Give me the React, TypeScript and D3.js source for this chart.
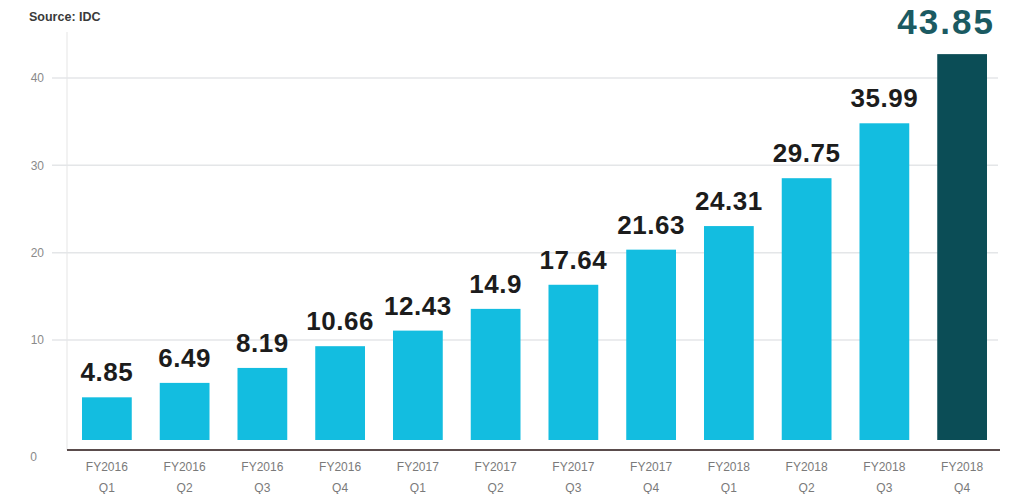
import React, { useEffect, useRef } from 'react';
import * as d3 from 'd3';

// quarterly values (source: IDC)
const years = ['FY2016', 'FY2016', 'FY2016', 'FY2016', 'FY2017', 'FY2017', 'FY2017', 'FY2017', 'FY2018', 'FY2018', 'FY2018', 'FY2018'];
const quarters = ['Q1', 'Q2', 'Q3', 'Q4', 'Q1', 'Q2', 'Q3', 'Q4', 'Q1', 'Q2', 'Q3', 'Q4'];
const values = [4.85, 6.49, 8.19, 10.66, 12.43, 14.9, 17.64, 21.63, 24.31, 29.75, 35.99, 43.85];
const gridTicks = [10, 20, 30, 40];

const App = () => {
  const svgRef = useRef(null);

  const width = 1025;
  const height = 494;

  const data = values.map((v, i) => ({ key: `${years[i]} ${quarters[i]}`, year: years[i], q: quarters[i], value: v }));

  const xScale = d3
    .scaleBand()
    .domain(data.map((d) => d.key))
    .range([68, 1001])
    .paddingInner(0.36)
    .paddingOuter(0.18);

  // bars
  const yScale = d3.scaleLinear().domain([0, 45]).range([440, 44]);
  // the printed axis in the original is spaced a bit differently from the bars
  const gridScale = d3.scaleLinear().domain([10, 40]).range([340, 78]);

  useEffect(() => {
    const svg = d3.select(svgRef.current);
    svg.selectAll('*').remove();

    svg.append('rect').attr('width', width).attr('height', height).attr('fill', '#fff');

    // source note
    svg
      .append('text')
      .attr('x', 29)
      .attr('y', 21)
      .attr('fill', '#3a3a3a')
      .style('font-family', 'Liberation Sans, Arial, sans-serif')
      .style('font-size', '12.5px')
      .style('font-weight', 'bold')
      .text('Source: IDC');

    // light vertical line at left
    svg
      .append('line')
      .attr('x1', 67)
      .attr('x2', 67)
      .attr('y1', 32)
      .attr('y2', 450)
      .attr('stroke', '#eeeeee')
      .attr('stroke-width', 1.5);

    // gridlines
    svg
      .selectAll('.grid')
      .data(gridTicks)
      .enter()
      .append('line')
      .attr('class', 'grid')
      .attr('x1', 52)
      .attr('x2', 998)
      .attr('y1', (d) => gridScale(d))
      .attr('y2', (d) => gridScale(d))
      .attr('stroke', '#e4e6e8')
      .attr('stroke-width', 1.5);

    const tickFont = 'Liberation Sans, Arial, sans-serif';

    svg
      .selectAll('.ytick')
      .data(gridTicks)
      .enter()
      .append('text')
      .attr('class', 'ytick')
      .attr('x', 44)
      .attr('y', (d) => gridScale(d))
      .attr('dy', '0.35em')
      .attr('text-anchor', 'end')
      .attr('fill', '#8a8a8a')
      .style('font-family', tickFont)
      .style('font-size', '12px')
      .text((d) => d);

    // zero label sits just under the baseline
    svg
      .append('text')
      .attr('x', 37)
      .attr('y', yScale(0) + 17)
      .attr('dy', '0.35em')
      .attr('text-anchor', 'end')
      .attr('fill', '#8a8a8a')
      .style('font-family', tickFont)
      .style('font-size', '12px')
      .text('0');

    // bars
    svg
      .selectAll('.bar')
      .data(data)
      .enter()
      .append('rect')
      .attr('class', 'bar')
      .attr('x', (d) => xScale(d.key))
      .attr('y', (d) => yScale(d.value))
      .attr('width', xScale.bandwidth())
      .attr('height', (d) => yScale(0) - yScale(d.value))
      .attr('fill', (d, i) => (i === data.length - 1 ? '#0b4d56' : '#13bde0'));

    // baseline
    svg
      .append('line')
      .attr('x1', 67)
      .attr('x2', 1000)
      .attr('y1', yScale(0) + 10)
      .attr('y2', yScale(0) + 10)
      .attr('stroke', '#5a4c4c')
      .attr('stroke-width', 2);

    // value labels
    const last = data.length - 1;
    svg
      .selectAll('.val')
      .data(data)
      .enter()
      .append('text')
      .attr('class', 'val')
      .attr('x', (d, i) => xScale(d.key) + xScale.bandwidth() / 2 + (i === last ? -16 : 0))
      .attr('y', (d, i) => yScale(d.value) - (i === last ? 20 : 16))
      .attr('text-anchor', 'middle')
      .attr('fill', (d, i) => (i === last ? '#1b5a62' : '#1c1c1c'))
      .style('font-family', 'Liberation Sans, Arial, sans-serif')
      .style('font-size', (d, i) => (i === last ? '35px' : '26px'))
      .style('font-weight', 'bold')
      .style('letter-spacing', (d, i) => (i === last ? '2px' : '0.5px'))
      .text((d) => d.value);

    // x labels
    const xl = svg
      .selectAll('.xlab')
      .data(data)
      .enter()
      .append('text')
      .attr('class', 'xlab')
      .attr('text-anchor', 'middle')
      .attr('fill', '#7a7a7a')
      .style('font-family', tickFont)
      .style('font-size', '12px');
    xl.append('tspan')
      .attr('x', (d) => xScale(d.key) + xScale.bandwidth() / 2)
      .attr('y', 471)
      .text((d) => d.year);
    xl.append('tspan')
      .attr('x', (d) => xScale(d.key) + xScale.bandwidth() / 2)
      .attr('y', 492)
      .text((d) => d.q);
  }, []);

  return (
    <svg
      ref={svgRef}
      width={width}
      height={height}
      style={{ position: 'absolute', left: 0, top: 0, display: 'block' }}
    />
  );
};

export default App;
